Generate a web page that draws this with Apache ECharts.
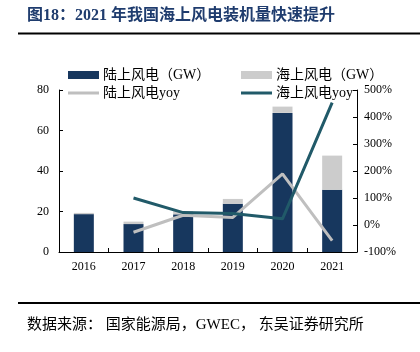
<!DOCTYPE html>
<html>
<head>
<meta charset="utf-8">
<script src="https://cdn.jsdelivr.net/npm/echarts@6/dist/echarts.min.js"></script>
<style>
  html, body { margin: 0; padding: 0; background: #fff; }
  #chart { width: 420px; height: 352px; }
</style>
</head>
<body>
<div id="chart"></div>
<script>
// 数据
const years = ['2016', '2017', '2018', '2019', '2020', '2021']
const onshore = [18.7, 13.8, 18.6, 23.8, 68.7, 30.7]
const offshore = [0.6, 1.2, 1.6, 2.4, 3.1, 16.9]
const onshoreYoy = [null, -27, 36, 28, 189, -58]
const offshoreYoy = [null, 100, 46, 43, 23, 453]

const serif = '"Liberation Serif", "Times New Roman", "Noto Sans CJK SC", serif'
const navy = '#17375e'
const lightGray = '#cccccc'
const lineGray = '#bfbfbf'
const teal = '#215a69'

// 每个图例单独放置
function legendAt (name, left, top, isLine) {
  return {
    data: [name],
    left: left,
    top: top,
    icon: 'rect',
    itemWidth: 31,
    itemHeight: isLine ? 3 : 8,
    itemGap: 0,
    textStyle: { fontFamily: serif, fontSize: 14, color: '#000', padding: [0, 0, 0, -1] },
    selectedMode: false
  }
}

const chart = echarts.init(document.getElementById('chart'))
chart.setOption({
  animation: false,
  backgroundColor: '#fff',
  graphic: [
    {
      type: 'text', left: 27, top: 8,
      style: { text: '图18：2021 年我国海上风电装机量快速提升', font: 'bold 16px ' + serif, fill: '#1f3c6e' }
    },
    { type: 'line', shape: { x1: 18, y1: 33.5, x2: 420, y2: 33.5 }, style: { stroke: '#000', lineWidth: 2 } },
    { type: 'line', shape: { x1: 18, y1: 303, x2: 420, y2: 303 }, style: { stroke: '#000', lineWidth: 2 } },
    {
      type: 'text', left: 27, top: 318,
      style: { text: '数据来源： 国家能源局，GWEC， 东吴证券研究所', font: '15px ' + serif, fill: '#000' }
    }
  ],
  legend: [
    legendAt('陆上风电（GW）', 63, 63, false),
    legendAt('海上风电（GW）', 236, 63, false),
    legendAt('陆上风电yoy', 63, 81, true),
    legendAt('海上风电yoy', 236, 81, true)
  ],
  grid: { left: 59, right: 63, top: 90, bottom: 100 },
  xAxis: {
    type: 'category',
    data: years,
    axisLine: { lineStyle: { color: '#000', width: 1 } },
    axisTick: { show: true, inside: true, length: 4, lineStyle: { color: '#000' } },
    axisLabel: { fontFamily: serif, fontSize: 12, color: '#000', margin: 9 }
  },
  yAxis: [
    {
      type: 'value', min: 0, max: 80, interval: 20,
      splitLine: { show: false },
      axisLine: { show: true, lineStyle: { color: '#000' } },
      axisTick: { show: true, inside: true, length: 4, lineStyle: { color: '#000' } },
      axisLabel: { fontFamily: serif, fontSize: 12, color: '#000', margin: 10 }
    },
    {
      type: 'value', min: -100, max: 500, interval: 100,
      splitLine: { show: false },
      axisLine: { show: true, lineStyle: { color: '#000' } },
      axisTick: { show: true, inside: true, length: 4, lineStyle: { color: '#000' } },
      axisLabel: { fontFamily: serif, fontSize: 12, color: '#000', margin: 7, formatter: '{value}%' }
    }
  ],
  series: [
    {
      name: '陆上风电（GW）', type: 'bar', stack: 'gw', data: onshore,
      barWidth: 20, itemStyle: { color: navy }
    },
    {
      name: '海上风电（GW）', type: 'bar', stack: 'gw', data: offshore,
      barWidth: 20, itemStyle: { color: lightGray }
    },
    {
      name: '陆上风电yoy', type: 'line', yAxisIndex: 1, data: onshoreYoy,
      showSymbol: false, symbol: 'none', lineStyle: { color: lineGray, width: 3 },
      itemStyle: { color: lineGray }
    },
    {
      name: '海上风电yoy', type: 'line', yAxisIndex: 1, data: offshoreYoy,
      showSymbol: false, symbol: 'none', lineStyle: { color: teal, width: 3 },
      itemStyle: { color: teal }
    }
  ]
})
</script>
</body>
</html>
